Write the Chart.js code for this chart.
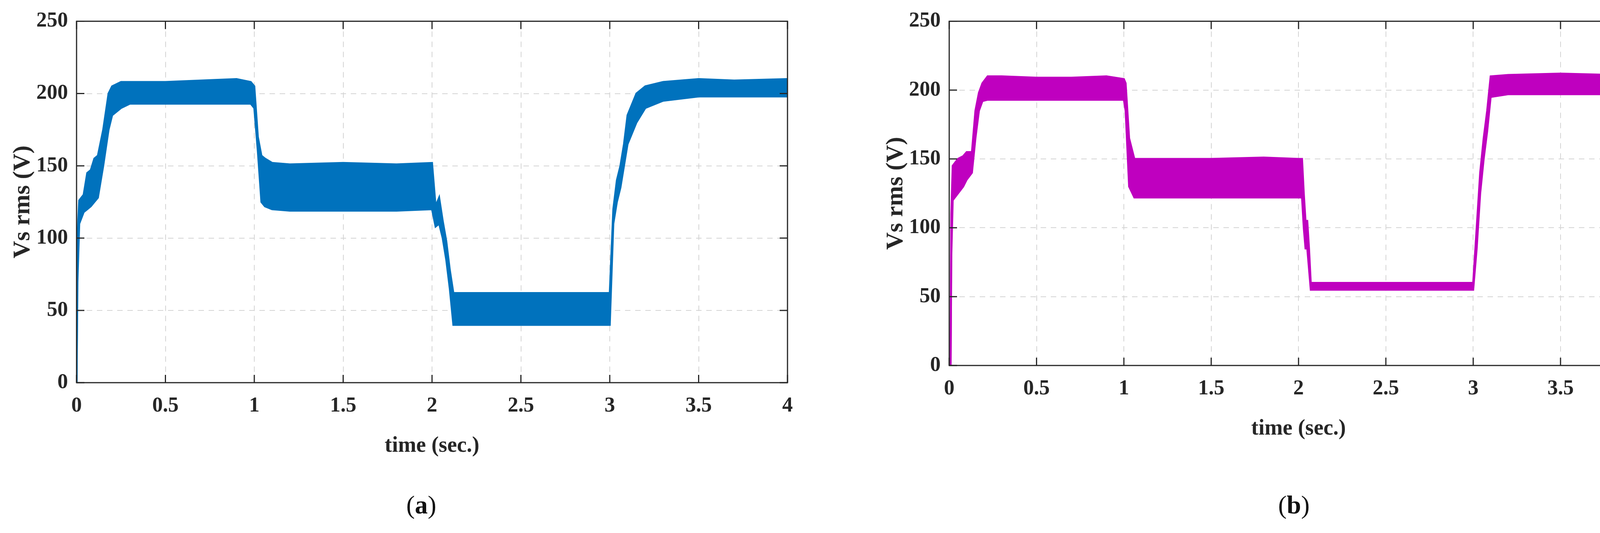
<!DOCTYPE html>
<html>
<head>
<meta charset="utf-8">
<script src="https://cdn.jsdelivr.net/npm/chart.js@4/dist/chart.umd.min.js"></script>
<style>
  body { margin:0; background:#fff; width:4260px; height:1365px; position:relative; overflow:hidden; }
  canvas { position:absolute; top:0; }
  .cap { position:absolute; top:1255px; font-family:"Liberation Serif"; font-size:66px; color:#111; }
</style>
</head>
<body>
<canvas id="chartA" width="2130" height="1365" style="left:0;width:2130px;height:1365px"></canvas>
<canvas id="chartB" width="2130" height="1365" style="left:2130px;width:2130px;height:1365px"></canvas>
<div class="cap" style="left:1040px">(<b>a</b>)</div>
<div class="cap" style="left:3272px">(<b>b</b>)</div>
<script>
// time (s) and envelope of the rms voltage band
const timeA  = [0,0.005,0.015,0.04,0.06,0.08,0.1,0.12,0.15,0.18,0.2,0.25,0.3,0.5,0.7,0.9,0.98,1.0,1.02,1.04,1.06,1.1,1.2,1.5,1.8,2.0,2.02,2.04,2.06,2.08,2.1,2.12,2.5,2.98,3.0,3.02,3.04,3.06,3.08,3.1,3.15,3.2,3.3,3.5,3.7,4.0];
const upperA = [0,100,126,130,145,147,155,157,175,200,205,208,208,208,209,210,208,205,170,157,155,152,151,152,151,152,122,128,112,98,78,62,62,62,62,120,140,150,165,185,200,205,208,210,209,210];
const lowerA = [0,70,110,118,120,122,125,128,150,175,185,190,193,193,193,193,193,190,160,125,122,120,119,119,119,120,108,110,100,85,65,40,40,40,40,110,125,135,150,165,180,190,195,198,198,198];

const timeB  = [0,0.008,0.012,0.02,0.05,0.08,0.1,0.13,0.15,0.17,0.19,0.22,0.3,0.5,0.7,0.9,1.0,1.01,1.03,1.06,1.1,1.5,1.8,2.0,2.02,2.03,2.04,2.05,2.06,2.07,2.5,2.99,3.0,3.02,3.04,3.06,3.08,3.1,3.2,3.5,3.8,4.0];
const upperB = [0,0,110,145,150,152,155,155,185,198,205,210,210,209,209,210,208,205,165,150,150,150,151,150,150,125,105,105,85,60,60,60,60,100,140,165,185,210,211,212,211,212];
const lowerB = [0,0,80,120,125,130,135,140,165,185,192,193,193,193,193,193,193,185,130,122,122,122,122,122,122,100,85,85,70,55,55,55,55,85,125,150,170,195,197,197,197,197];

const xTicks = [0,0.5,1,1.5,2,2.5,3,3.5,4];
const yTicks = [0,50,100,150,200,250];

const tickFont = { family:'Liberation Serif', size:54, weight:'bold' };

// MATLAB-like box with inward tick marks
const boxPlugin = {
  id:'box',
  afterDatasetsDraw(chart){
    const {ctx, chartArea:a, scales:{x,y}} = chart;
    ctx.save();
    ctx.strokeStyle = '#262626';
    ctx.lineWidth = 3;
    ctx.strokeRect(a.left, a.top, a.right-a.left, a.bottom-a.top);
    const L = 20;
    ctx.beginPath();
    xTicks.forEach(v => { const px = x.getPixelForValue(v);
      ctx.moveTo(px, a.bottom); ctx.lineTo(px, a.bottom-L);
      ctx.moveTo(px, a.top); ctx.lineTo(px, a.top+L); });
    yTicks.forEach(v => { const py = y.getPixelForValue(v);
      ctx.moveTo(a.left, py); ctx.lineTo(a.left+L, py);
      ctx.moveTo(a.right, py); ctx.lineTo(a.right-L, py); });
    ctx.stroke();
    ctx.restore();
  }
};

function makeChart(id, t, up, lo, color, pad, yWidth, xHeight){
  const pts = arr => arr.map((v,i) => ({x:t[i], y:v}));
  new Chart(document.getElementById(id), {
    type:'line',
    data:{ datasets:[
      { data:pts(up), borderColor:color, backgroundColor:color, borderWidth:5, pointRadius:0, tension:0, fill:'+1' },
      { data:pts(lo), borderColor:color, backgroundColor:color, borderWidth:5, pointRadius:0, tension:0, fill:false }
    ]},
    options:{
      responsive:false, animation:false,
      devicePixelRatio:1,
      layout:{ padding:pad },
      plugins:{ legend:{display:false}, tooltip:{enabled:false} },
      scales:{
        x:{ type:'linear', min:0, max:4,
          afterBuildTicks: s => { s.ticks = xTicks.map(v => ({value:v})); },
          afterFit: s => { s.height = xHeight; },
          ticks:{ font:tickFont, color:'#262626', padding:28, maxRotation:0, callback:v => String(v) },
          grid:{ color:'#d4d4d4', lineWidth:2, tickLength:0, drawTicks:false },
          border:{ display:false, dash:[14,12] },
          title:{ display:true, text:'time (sec.)', font:{family:'Liberation Serif', size:56, weight:'bold'}, color:'#262626', padding:{top:22} }
        },
        y:{ min:0, max:250,
          afterBuildTicks: s => { s.ticks = yTicks.map(v => ({value:v})); },
          afterFit: s => { s.width = yWidth; },
          ticks:{ font:tickFont, color:'#262626', padding:22 },
          grid:{ color:'#d4d4d4', lineWidth:2, tickLength:0, drawTicks:false },
          border:{ display:false, dash:[14,12] },
          title:{ display:true, text:'Vs rms (V)', font:{family:'Liberation Serif', size:62, weight:'bold'}, color:'#262626', padding:{top:22, bottom:0} }
        }
      }
    },
    plugins:[boxPlugin]
  });
}

makeChart('chartA', timeA, upperA, lowerA, '#0072BD', {left:0, right:114, top:54, bottom:185}, 196, 200);
makeChart('chartB', timeB, upperB, lowerB, '#BF00BF', {left:105, right:35, top:54, bottom:229}, 195, 200);
</script>
</body>
</html>
